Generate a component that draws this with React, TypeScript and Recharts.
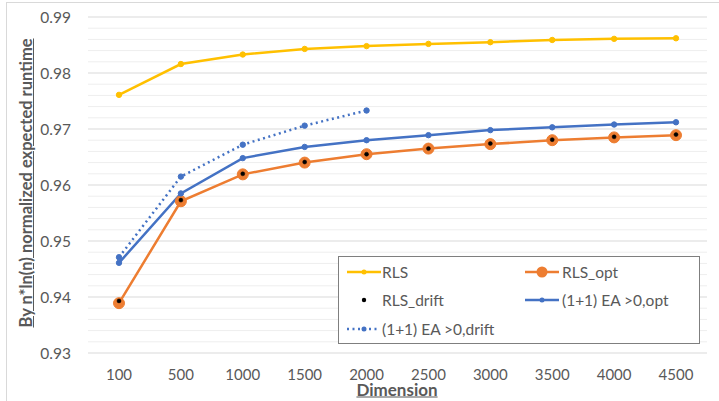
import React from 'react';
import { LineChart, Line, XAxis, YAxis, ReferenceLine } from 'recharts';

const dimensions = ['100', '500', '1000', '1500', '2000', '2500', '3000', '3500', '4000', '4500'];
const rls = [0.9761, 0.9816, 0.9833, 0.9843, 0.9848, 0.9852, 0.9855, 0.9859, 0.9861, 0.9862];
const rlsOpt = [0.9389, 0.9571, 0.9619, 0.964, 0.9655, 0.9665, 0.9673, 0.968, 0.9685, 0.9689];
const rlsDrift = [0.9393, 0.9573, 0.962, 0.9641, 0.9655, 0.9665, 0.9674, 0.9681, 0.9686, 0.969];
const eaOpt = [0.9461, 0.9585, 0.9648, 0.9668, 0.968, 0.9689, 0.9698, 0.9703, 0.9708, 0.9712];
const eaDrift = [0.9471, 0.9615, 0.9672, 0.9706, 0.9733, null, null, null, null, null];
const majorTicks = [0.93, 0.94, 0.95, 0.96, 0.97, 0.98, 0.99];
const minorTicks = [
  0.932, 0.934, 0.936, 0.938, 0.942, 0.944, 0.946, 0.948, 0.952, 0.954, 0.956, 0.958,
  0.962, 0.964, 0.966, 0.968, 0.972, 0.974, 0.976, 0.978, 0.982, 0.984, 0.986, 0.988,
];

const data = dimensions.map((d, i) => ({
  dim: d,
  rls: rls[i],
  rlsOpt: rlsOpt[i],
  rlsDrift: rlsDrift[i],
  eaOpt: eaOpt[i],
  eaDrift: eaDrift[i],
}));

const YELLOW = '#FFC000';
const ORANGE = '#ED7D31';
const BLUE = '#4472C4';
const TEXT = '#595959';
const FONT = 'Lato, "Open Sans", sans-serif';

const LegendBox = () => {
  const item = (sample: React.ReactNode, label: string, left: number, top: number) => (
    <div style={{ position: 'absolute', left, top, display: 'flex', alignItems: 'center', height: 20 }}>
      <svg width={38} height={20} style={{ display: 'block' }}>{sample}</svg>
      <span style={{ fontSize: 15.5, color: TEXT, fontFamily: FONT, marginLeft: 1, whiteSpace: 'nowrap' }}>{label}</span>
    </div>
  );
  return (
    <div style={{ position: 'absolute', left: 338, top: 256, width: 362, height: 88, border: '1px solid #7f7f7f', background: '#fff', boxSizing: 'border-box' }}>
      {item(<g><line x1={4} x2={38} y1={10} y2={10} stroke={YELLOW} strokeWidth={2.5} /><circle cx={21} cy={10} r={2.5} fill={YELLOW} /></g>, 'RLS', 4, 5)}
      {item(<g><line x1={2} x2={36} y1={10} y2={10} stroke={ORANGE} strokeWidth={2.5} /><circle cx={19} cy={10} r={5.5} fill={ORANGE} /></g>, 'RLS_opt', 184, 5)}
      {item(<g><circle cx={21} cy={10} r={2.2} fill="#000" /></g>, 'RLS_drift', 4, 33)}
      {item(<g><line x1={2} x2={36} y1={10} y2={10} stroke={BLUE} strokeWidth={2.5} /><circle cx={19} cy={10} r={2.5} fill={BLUE} /></g>, '(1+1) EA >0,opt', 184, 33)}
      {item(<g><line x1={4} x2={36} y1={10} y2={10} stroke={BLUE} strokeWidth={2.5} strokeDasharray="2 3.5" /><circle cx={21} cy={10} r={2.5} fill={BLUE} /></g>, '(1+1) EA >0,drift', 4, 62)}
    </div>
  );
};

export default function App() {
  return (
    <div style={{ position: 'absolute', left: 0, top: 0, width: 719, height: 401, background: '#fff', overflow: 'hidden', fontFamily: FONT }}>
      <div style={{ position: 'absolute', left: 6, top: 2, width: 760, height: 460, border: '1px solid #d9d9d9', boxSizing: 'border-box' }} />
      <LineChart width={719} height={401} data={data} margin={{ top: 17, right: 12, bottom: 18, left: 0 }}>
        {minorTicks.map((v) => (
          <ReferenceLine key={'m' + v} y={v} stroke="#eeeeee" strokeWidth={1} />
        ))}
        {majorTicks.map((v) => (
          <ReferenceLine key={'M' + v} y={v} stroke="#d9d9d9" strokeWidth={1.2} />
        ))}
        <XAxis
          dataKey="dim"
          axisLine={false}
          tickLine={false}
          tickSize={0}
          tickMargin={16}
          height={30}
          padding={{ left: 31, right: 31 }}
          tick={{ fill: TEXT, fontSize: 15, fontFamily: FONT }}
          interval={0}
        />
        <YAxis
          domain={[0.93, 0.99]}
          ticks={majorTicks}
          axisLine={false}
          tickLine={false}
          tickSize={0}
          tickMargin={17}
          width={88}
          tick={{ fill: TEXT, fontSize: 15.5, fontFamily: FONT }}
          tickFormatter={(v: number) => v.toFixed(2)}
          allowDataOverflow
        />
        <Line dataKey="rlsOpt" stroke={ORANGE} strokeWidth={2.5} isAnimationActive={false}
          dot={{ r: 5.5, fill: ORANGE, stroke: ORANGE, strokeWidth: 1 }} />
        <Line dataKey="eaOpt" stroke={BLUE} strokeWidth={2.5} isAnimationActive={false}
          dot={{ r: 2.7, fill: BLUE, stroke: BLUE, strokeWidth: 1 }} />
        <Line dataKey="eaDrift" stroke={BLUE} strokeWidth={2.5} strokeDasharray="2 3.5" isAnimationActive={false}
          dot={{ r: 2.7, fill: BLUE, stroke: BLUE, strokeWidth: 1, strokeDasharray: '' }} connectNulls={false} />
        <Line dataKey="rlsDrift" stroke="none" isAnimationActive={false}
          dot={{ r: 2, fill: '#000', stroke: '#000', strokeWidth: 0.5 }} />
        <Line dataKey="rls" stroke={YELLOW} strokeWidth={2.5} isAnimationActive={false}
          dot={{ r: 2.7, fill: YELLOW, stroke: YELLOW, strokeWidth: 1 }} />
      </LineChart>
      <LegendBox />
      <div style={{ position: 'absolute', left: 26, top: 183, transform: 'translate(-50%, -50%) rotate(-90deg)', whiteSpace: 'nowrap', fontSize: 16.5, fontWeight: 700, color: TEXT, textDecoration: 'underline', fontFamily: FONT }}>
        By n*ln(n) normalized expected runtime
      </div>
      <div style={{ position: 'absolute', left: 397, top: 389, transform: 'translate(-50%, -50%)', whiteSpace: 'nowrap', fontSize: 17, fontWeight: 700, color: TEXT, textDecoration: 'underline', fontFamily: FONT }}>
        Dimension
      </div>
    </div>
  );
}
